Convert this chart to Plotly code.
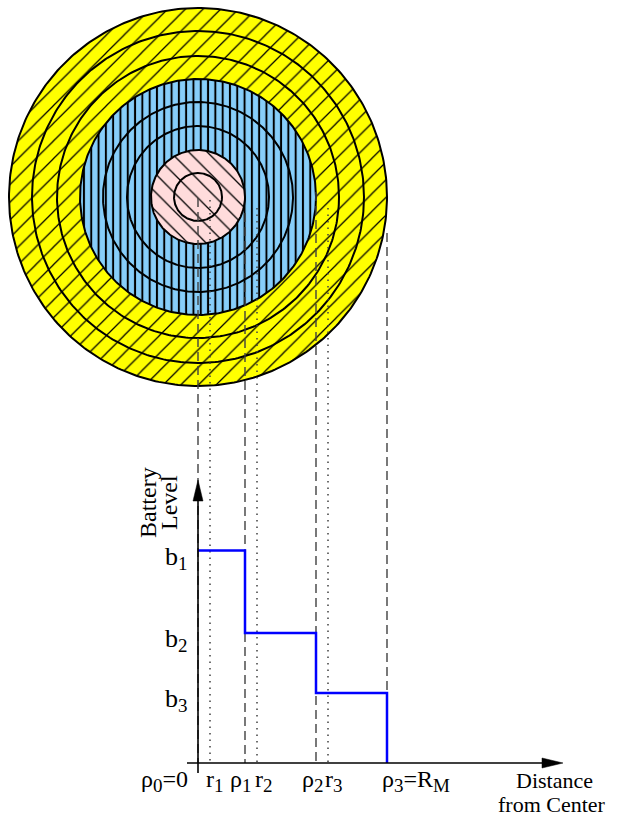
import numpy as np
import plotly.graph_objects as go

# ---------------- data ----------------
ring_radii = [189, 166, 141, 118, 95, 71, 47, 24]      # every drawn circle
rho = [0, 47, 118, 189]                                # zone boundaries rho_0..rho_3
r_mid = [12, 59, 130]                                  # r_1..r_3
battery = [0.85, 0.52, 0.28]                           # b_1..b_3
rho_labels = [("ρ", "0", "=0"), ("ρ", "1", ""), ("ρ", "2", ""), ("ρ", "3", "=R", "M")]
r_labels = [("r", "1"), ("r", "2"), ("r", "3")]
b_labels = [("b", "1"), ("b", "2"), ("b", "3")]
y_title = ["Battery", "Level"]
x_title = ["Distance", "from Center"]

# ---------------- layout constants ----------------
W, H = 624, 816
CX = 198          # page x of distance 0
CY = 197          # page y of the disk centre
AXIS_Y = 763      # page y of battery level 0
LEVEL_PX = 250.0  # pixels per battery unit
FONT = "Liberation Serif"
SUB_PX = 19

def lv(px):       # pixels above the x-axis -> battery units
    return px / LEVEL_PX

def sub(s):
    return "<sub><span style='font-size:%dpx'>%s</span></sub>" % (SUB_PX, s)

def fmt(parts):
    out = ""
    for i, p in enumerate(parts):
        out += sub(p) if i % 2 == 1 else p
    return out

# zone fills keyed by outer radius (rho_3, rho_2, rho_1)
zone_style = {
    rho[3]: dict(color="#ffff00", shape="/", size=12.5, solidity=0.10),
    rho[2]: dict(color="#87cefa", shape="|", size=7.3, solidity=0.27),
    rho[1]: dict(color="#ffdcdc", shape="\\", size=13, solidity=0.10),
}

fig = go.Figure()
theta = np.linspace(0, 2 * np.pi, 361)

for rad in sorted(ring_radii, reverse=True):
    xs = rad * np.cos(theta)
    ys = rad * np.sin(theta)
    if rad in zone_style:
        st = zone_style[rad]
        fig.add_trace(go.Scatter(
            x=xs, y=ys, mode="lines", fill="toself", fillcolor=st["color"],
            fillpattern=dict(shape=st["shape"], size=st["size"], solidity=st["solidity"],
                             fgcolor="black", bgcolor=st["color"], fillmode="replace"),
            line=dict(color="black", width=2), hoverinfo="skip", showlegend=False,
            xaxis="x", yaxis="y"))
    else:
        fig.add_trace(go.Scatter(
            x=xs, y=ys, mode="lines", line=dict(color="black", width=2),
            hoverinfo="skip", showlegend=False, xaxis="x", yaxis="y"))

# guide lines from the disk to the distance axis
dash_top_off = [1, 16, -5, 36]   # px below disk centre where each guide starts
dot_top_off = [3, 11, 11]
for xv, off in zip(rho, dash_top_off):
    top = lv(AXIS_Y - (CY + off))
    fig.add_trace(go.Scatter(x=[xv, xv], y=[top, 0], mode="lines",
                             line=dict(color="#404040", width=1.4, dash="9px,5px"),
                             hoverinfo="skip", showlegend=False, xaxis="x", yaxis="y2"))
for xv, off in zip(r_mid, dot_top_off):
    top = lv(AXIS_Y - (CY + off))
    fig.add_trace(go.Scatter(x=[xv, xv], y=[top, 0], mode="lines",
                             line=dict(color="#404040", width=1.5, dash="1.5px,5px"),
                             hoverinfo="skip", showlegend=False, xaxis="x", yaxis="y2"))

# battery level step function
fig.add_trace(go.Scatter(x=rho, y=battery + [0], mode="lines", line_shape="hv",
                         line=dict(color="#0000ff", width=2.5),
                         hoverinfo="skip", showlegend=False, xaxis="x", yaxis="y2"))

# axes with arrowheads
X_TAIL, X_TIP = -11, 365          # distance units (=px)
Y_TAIL, Y_TIP = lv(-10), lv(283)  # battery units
HEAD_LEN, HEAD_HALF = 21, 5
fig.add_trace(go.Scatter(x=[X_TAIL, X_TIP - HEAD_LEN], y=[0, 0], mode="lines",
                         line=dict(color="black", width=1.6), hoverinfo="skip",
                         showlegend=False, xaxis="x", yaxis="y2"))
fig.add_trace(go.Scatter(x=[0, 0], y=[Y_TAIL, Y_TIP - lv(HEAD_LEN)], mode="lines",
                         line=dict(color="black", width=1.6), hoverinfo="skip",
                         showlegend=False, xaxis="x", yaxis="y2"))
fig.add_trace(go.Scatter(x=[X_TIP, X_TIP - HEAD_LEN, X_TIP - HEAD_LEN, X_TIP],
                         y=[0, lv(HEAD_HALF), lv(-HEAD_HALF), 0], mode="lines", fill="toself",
                         fillcolor="black", line=dict(color="black", width=0.5),
                         hoverinfo="skip", showlegend=False, xaxis="x", yaxis="y2"))
fig.add_trace(go.Scatter(x=[0, HEAD_HALF, -HEAD_HALF, 0],
                         y=[Y_TIP, Y_TIP - lv(HEAD_LEN), Y_TIP - lv(HEAD_LEN), Y_TIP],
                         mode="lines", fill="toself", fillcolor="black",
                         line=dict(color="black", width=0.5),
                         hoverinfo="skip", showlegend=False, xaxis="x", yaxis="y2"))

ann = []
def label(text, x, y, xanchor, yanchor, xshift=0, yshift=0, size=24, angle=0):
    ann.append(dict(text=text, x=x, y=y, xref="x", yref="y2", xanchor=xanchor,
                    yanchor=yanchor, xshift=xshift, yshift=yshift, showarrow=False,
                    textangle=angle, font=dict(family=FONT, size=size, color="black")))

# distance tick labels
rho_shift = [-8, -17, -16, -7]
for i, (xv, t) in enumerate(zip(rho, rho_labels)):
    label(fmt(t), xv, 0, "right" if i == 0 else "left", "top", xshift=rho_shift[i],
          yshift=-1, size=24)
r_shift = [-6, -4, -5]
for xv, t, s in zip(r_mid, r_labels, r_shift):
    label(fmt(t), xv, 0, "left", "top", xshift=s, yshift=-1, size=24)
# battery tick labels
for bv, t in zip(battery, b_labels):
    label(fmt(t), 0, bv, "right", "middle", xshift=-8, yshift=-7, size=26)
# axis titles
label(y_title[0], 0, Y_TIP, "center", "middle", xshift=-50, yshift=-23, angle=-90)
label(y_title[1], 0, Y_TIP, "center", "middle", xshift=-29, yshift=-23, angle=-90)
label(x_title[0], X_TIP, 0, "center", "middle", xshift=-9, yshift=-17, size=22)
label(x_title[1], X_TIP, 0, "center", "middle", xshift=-11, yshift=-41, size=22)

ax_common = dict(visible=False, showgrid=False, zeroline=False, fixedrange=True)
fig.update_layout(
    width=W, height=H, margin=dict(l=0, r=0, t=0, b=0),
    paper_bgcolor="white", plot_bgcolor="white", showlegend=False,
    xaxis=dict(range=[-CX, W - CX], domain=[0, 1], **ax_common),
    yaxis=dict(range=[CY - H, CY], domain=[0, 1], **ax_common),
    yaxis2=dict(range=[lv(AXIS_Y - H), lv(AXIS_Y)], domain=[0, 1], overlaying="y",
                **ax_common),
    annotations=ann,
)

fig.write_html("out.html", config={"staticPlot": True},
               post_script="document.body.style.margin='0';")
